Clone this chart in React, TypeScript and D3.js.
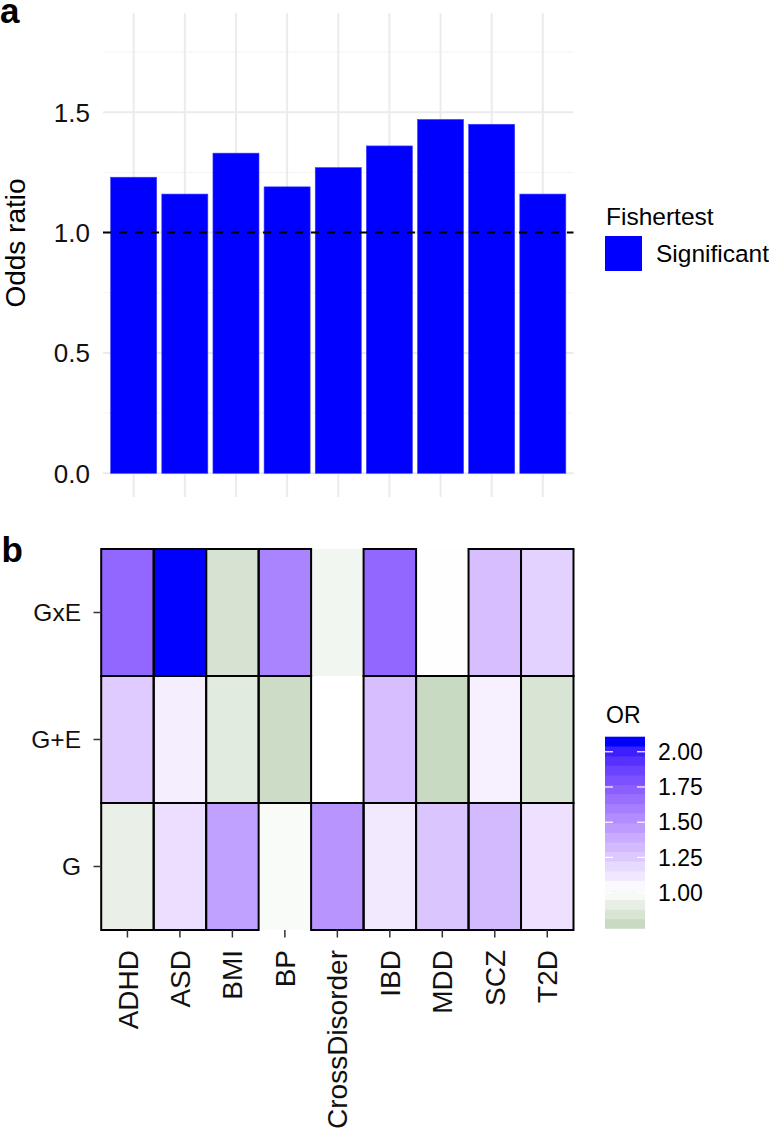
import React from "react";
import * as d3 from "d3";

const categories = ["ADHD", "ASD", "BMI", "BP", "CrossDisorder", "IBD", "MDD", "SCZ", "T2D"];
const oddsRatios = [1.23, 1.16, 1.33, 1.19, 1.27, 1.36, 1.47, 1.45, 1.16];
const yTicks = [0, 0.5, 1.0, 1.5];
const yMinorTicks = [0.25, 0.75, 1.25, 1.75];

const models = ["GxE", "G+E", "G"];
const orGxE = [1.72, 2.107, 0.81, 1.58, 0.94, 1.72, 0.99, 1.3, 1.21];
const orGplusE = [1.24, 1.08, 0.86, 0.76, 1.0, 1.3, 0.747, 1.07, 0.82];
const orG = [0.9, 1.15, 1.44, 0.97, 1.5, 1.1, 1.27, 1.32, 1.14];
const sigGxE = [true, true, true, true, false, true, false, true, true];
const sigGplusE = [true, true, true, true, false, true, true, true, true];
const sigG = [true, true, true, false, true, true, true, true, true];
const legendBreaks = [1.0, 1.25, 1.5, 1.75, 2.0];

const FONT = "'Liberation Sans', Arial, Helvetica, sans-serif";

export default function App() {
  // ---------- panel a ----------
  const xAc = d3.scalePoint<string>().domain(categories).range([103, 573.5]).padding(0.6);
  const yA = d3.scaleLinear().domain([-0.0985, 1.911]).range([497, 13.3]);
  const rx = xAc.step() * 0.9;

  // ---------- panel b ----------
  const rows = [orGxE, orGplusE, orG];
  const sigs = [sigGxE, sigGplusE, sigG];
  const xB = d3.scaleBand<string>().domain(categories).range([101.2, 573.5]);
  const yB = d3.scaleBand<string>().domain(models).range([549, 930]);
  const allVals = rows.flat();
  const vMin = d3.min(allVals) as number;
  const vMax = d3.max(allVals) as number;
  const spread = Math.max(vMax - 1, 1 - vMin);
  const hi = d3.interpolateLab("#ffffff", "#0000ff");
  const lo = d3.interpolateLab("#ffffff", "#006400");
  const fillFor = (v: number) => (v >= 1 ? hi((v - 1) / spread) : lo((1 - v) / spread));

  const cb = d3.scaleLinear().domain([vMin, vMax]).range([928.3, 736.7]);
  const nbin = 20;
  const binVals = d3.range(nbin).map((i) => vMin + (i * (vMax - vMin)) / (nbin - 1));
  const binH = (928.3 - 736.7) / nbin;

  return (
    <svg width={769} height={1135} style={{ display: "block", position: "absolute", left: 0, top: 0, background: "#fff" }} fontFamily={FONT}>
      <rect x={0} y={0} width={769} height={1135} fill="#fff" />
      {/* panel a label */}
      <text x={0} y={23} fontSize={35} fontWeight="bold">a</text>

      {/* grid */}
      {yMinorTicks.map((t) => (
        <line key={"mn" + t} x1={103} x2={573.5} y1={yA(t)} y2={yA(t)} stroke="#f3f3f3" strokeWidth={1} />
      ))}
      {yTicks.map((t) => (
        <line key={"mj" + t} x1={103} x2={573.5} y1={yA(t)} y2={yA(t)} stroke="#ebebeb" strokeWidth={2} />
      ))}
      {categories.map((c) => (
        <line key={"vg" + c} x1={xAc(c)} x2={xAc(c)} y1={13.3} y2={497} stroke="#ebebeb" strokeWidth={2} />
      ))}

      {/* bars */}
      {categories.map((c, i) => (
        <rect key={"bar" + c} x={(xAc(c) as number) - rx / 2} width={rx} y={yA(oddsRatios[i])} height={yA(0) - yA(oddsRatios[i])} fill="#0000ff" stroke="#3a3aff" strokeWidth={0.6} />
      ))}

      {/* dashed reference line */}
      <line x1={103} x2={573.5} y1={yA(1)} y2={yA(1)} stroke="#000" strokeWidth={2} strokeDasharray="8,8" />

      {/* y tick labels */}
      {yTicks.map((t) => (
        <text key={"yl" + t} x={90} y={yA(t)} dy="0.36em" textAnchor="end" fontSize={26} fill="#111">
          {t.toFixed(1)}
        </text>
      ))}
      <text transform={`translate(25,243) rotate(-90)`} textAnchor="middle" fontSize={28} fill="#000">Odds ratio</text>

      {/* legend a */}
      <text x={606} y={225} fontSize={24.5} fill="#000">Fishertest</text>
      <rect x={605} y={236} width={37} height={35} fill="#0000ff" />
      <text x={656} y={253.5} dy="0.36em" fontSize={24.5} fill="#000">Significant</text>

      {/* panel b label */}
      <text x={1.5} y={561.7} fontSize={35} fontWeight="bold">b</text>

      {/* tiles */}
      {models.map((m, r) =>
        categories.map((c, i) => (
          <rect key={"t" + m + c} x={xB(c)} y={yB(m)} width={xB.bandwidth()} height={yB.bandwidth()} fill={fillFor(rows[r][i])} />
        ))
      )}
      {models.map((m, r) =>
        categories.map((c, i) =>
          sigs[r][i] ? (
            <rect key={"b" + m + c} x={xB(c)} y={yB(m)} width={xB.bandwidth()} height={yB.bandwidth()} fill="none" stroke="#000" strokeWidth={2} />
          ) : null
        )
      )}

      {/* y axis b */}
      {models.map((m) => {
        const cy = (yB(m) as number) + yB.bandwidth() / 2;
        return (
          <g key={"yb" + m}>
            <line x1={93.5} x2={101.2} y1={cy} y2={cy} stroke="#333" strokeWidth={1.5} />
            <text x={81} y={cy} dy="0.36em" textAnchor="end" fontSize={24.5} fill="#111">{m}</text>
          </g>
        );
      })}
      {/* x axis b */}
      {categories.map((c) => {
        const cx = (xB(c) as number) + xB.bandwidth() / 2;
        return (
          <g key={"xb" + c}>
            <line x1={cx} x2={cx} y1={930} y2={937.5} stroke="#333" strokeWidth={1.5} />
            <text transform={`translate(${cx},950) rotate(-90)`} dy="0.36em" textAnchor="end" fontSize={28} fill="#111">{c}</text>
          </g>
        );
      })}

      {/* colour bar legend */}
      <text x={606} y={723} fontSize={23} fill="#000">OR</text>
      {binVals.map((v, i) => (
        <rect key={"cb" + i} x={605} width={40} y={928.3 - (i + 1) * binH} height={binH + 0.5} fill={fillFor(v)} />
      ))}
      {legendBreaks.map((b) => (
        <g key={"cbt" + b}>
          <line x1={605} x2={613} y1={cb(b)} y2={cb(b)} stroke="#fff" strokeWidth={1.2} />
          <line x1={637} x2={645} y1={cb(b)} y2={cb(b)} stroke="#fff" strokeWidth={1.2} />
          <text x={658} y={cb(b)} dy="0.36em" fontSize={23} fill="#000">{b.toFixed(2)}</text>
        </g>
      ))}
    </svg>
  );
}
